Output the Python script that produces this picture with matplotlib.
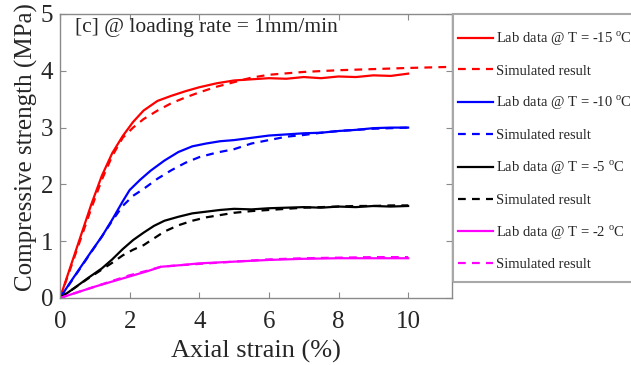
import matplotlib
matplotlib.use('Agg')
import matplotlib.pyplot as plt
from matplotlib.patches import Rectangle

plt.rcParams['font.family'] = ['Liberation Serif', 'DejaVu Serif']
plt.rcParams['mathtext.fontset'] = 'custom'
plt.rcParams['mathtext.rm'] = 'Liberation Serif'

# lab data (axial strain %, compressive strength MPa)
x_lab_15 = [0, 0.3, 0.6, 0.9, 1.2, 1.5, 1.8, 2.1, 2.4, 2.8, 3.2, 3.6, 4.0, 4.5, 5.0, 5.5, 6.0, 6.5, 7.0, 7.5, 8.0, 8.5, 9.0, 9.5, 10.0]
y_lab_15 = [0, 0.55, 1.1, 1.65, 2.15, 2.55, 2.85, 3.1, 3.3, 3.47, 3.56, 3.64, 3.71, 3.78, 3.83, 3.85, 3.87, 3.86, 3.89, 3.87, 3.9, 3.89, 3.92, 3.91, 3.95]
x_sim_15 = [0, 0.3, 0.6, 0.9, 1.2, 1.5, 1.8, 2.1, 2.4, 2.8, 3.2, 3.6, 4.0, 4.5, 5.0, 5.5, 6, 7, 8, 9, 10, 11.3]
y_sim_15 = [0, 0.52, 1.05, 1.58, 2.08, 2.5, 2.82, 3.0, 3.15, 3.3, 3.43, 3.53, 3.62, 3.72, 3.8, 3.88, 3.93, 3.98, 4.01, 4.03, 4.05, 4.07]

x_lab_10 = [0, 0.3, 0.6, 0.9, 1.2, 1.5, 1.8, 2.0, 2.3, 2.6, 3.0, 3.4, 3.8, 4.2, 4.6, 5.0, 5.5, 6.0, 6.5, 7.0, 7.5, 8.0, 8.5, 9.0, 9.5, 10]
y_lab_10 = [0, 0.28, 0.55, 0.82, 1.08, 1.38, 1.7, 1.9, 2.08, 2.24, 2.42, 2.57, 2.67, 2.72, 2.76, 2.78, 2.82, 2.86, 2.88, 2.9, 2.91, 2.94, 2.96, 2.99, 3.0, 3.0]
x_sim_10 = [0, 0.3, 0.6, 0.9, 1.2, 1.5, 1.8, 2.1, 2.4, 2.8, 3.2, 3.6, 4.0, 4.5, 5.0, 5.5, 6, 6.5, 7, 7.5, 8, 8.5, 9, 9.5, 10]
y_sim_10 = [0, 0.27, 0.54, 0.81, 1.08, 1.36, 1.62, 1.8, 1.92, 2.1, 2.25, 2.38, 2.48, 2.56, 2.62, 2.72, 2.78, 2.84, 2.87, 2.91, 2.94, 2.96, 2.98, 2.99, 3.0]

x_lab_5 = [0, 0.4, 0.8, 1.2, 1.5, 1.8, 2.1, 2.4, 2.7, 3.0, 3.4, 3.8, 4.2, 4.6, 5.0, 5.5, 6, 6.5, 7, 7.5, 8, 8.5, 9, 9.5, 10]
y_lab_5 = [0, 0.17, 0.35, 0.52, 0.68, 0.86, 1.02, 1.15, 1.27, 1.36, 1.43, 1.49, 1.52, 1.55, 1.57, 1.56, 1.58, 1.59, 1.6, 1.59, 1.61, 1.6, 1.62, 1.61, 1.62]
x_sim_5 = x_lab_5
y_sim_5 = [0, 0.17, 0.34, 0.5, 0.62, 0.75, 0.85, 0.93, 1.05, 1.17, 1.28, 1.36, 1.42, 1.46, 1.5, 1.53, 1.55, 1.57, 1.59, 1.6, 1.61, 1.62, 1.62, 1.63, 1.63]

x_lab_2 = [0, 0.5, 1.0, 1.5, 2.0, 2.5, 2.9, 3.5, 4, 5, 6, 7, 8, 9, 10]
y_lab_2 = [0, 0.1, 0.2, 0.29, 0.38, 0.47, 0.55, 0.58, 0.61, 0.64, 0.67, 0.69, 0.7, 0.7, 0.7]
x_sim_2 = x_lab_2
y_sim_2 = [0, 0.1, 0.2, 0.3, 0.4, 0.48, 0.55, 0.58, 0.6, 0.64, 0.68, 0.7, 0.71, 0.72, 0.72]

temps = ['-15', '-10', '-5', '-2']
colors = ['#ff0000', '#0000ff', '#000000', '#ff00ff']
xticks = [0, 2, 4, 6, 8, 10]
yticks = [0, 1, 2, 3, 4, 5]

fig = plt.figure(figsize=(6.31, 3.65), dpi=100)
ax = fig.add_axes([60/631, 1 - 298/365, 392/631, 284/365])

labs = [(x_lab_15, y_lab_15), (x_lab_10, y_lab_10), (x_lab_5, y_lab_5), (x_lab_2, y_lab_2)]
sims = [(x_sim_15, y_sim_15), (x_sim_10, y_sim_10), (x_sim_5, y_sim_5), (x_sim_2, y_sim_2)]
handles = []
for (xl, yl), (xs, ys), c, t in zip(labs, sims, colors, temps):
    h1, = ax.plot(xl, yl, color=c, lw=1.6, label=r'Lab data @ T = ' + t + r' $^{\mathrm{o}}$C')
    h2, = ax.plot(xs, ys, color=c, lw=1.6, linestyle=(0, (3.5, 2.8)), label='Simulated result')
    handles += [h1, h2]

ax.set_xlim(0, 11.26)
ax.set_ylim(0, 5)
ax.set_xticks(xticks)
ax.set_yticks(yticks)
for s in ax.spines.values():
    s.set_color('#8a8a8a')
    s.set_linewidth(1.0)
ax.tick_params(direction='in', length=4, colors='#8a8a8a', labelcolor='#262626',
               labelsize=18, top=True, right=True)
ax.tick_params(axis='x', pad=9)
ax.tick_params(axis='y', pad=5)

ax.set_xlabel('Axial strain (%)', fontsize=19, color='#262626')
ax.xaxis.set_label_coords(0.5, -0.148)
ax.set_ylabel('Compressive strength (MPa)', fontsize=18, color='#262626')
ax.yaxis.set_label_coords(-0.055, 0.533)

ax.text(0.038, 0.985, '[c] @ loading rate = 1mm/min', transform=ax.transAxes,
        fontsize=15.5, va='top', ha='left', color='#262626')

# legend box (drawn separately so its padding can match)
fig.patches.append(Rectangle((453/631, 1 - 282/365), 0.5, 268/365, transform=fig.transFigure,
                             fill=False, edgecolor='#a8a8a8', lw=1.5))
leg = fig.legend(handles=handles, loc='upper left', bbox_to_anchor=(458/631, 1 - 29.5/365),
                 fontsize=10.5, frameon=False, borderaxespad=0, borderpad=0,
                 handlelength=2.4, handletextpad=0.2, labelspacing=1.13)
for txt in leg.get_texts():
    txt.set_color('#262626')

fig.savefig('out.png', dpi=100)
